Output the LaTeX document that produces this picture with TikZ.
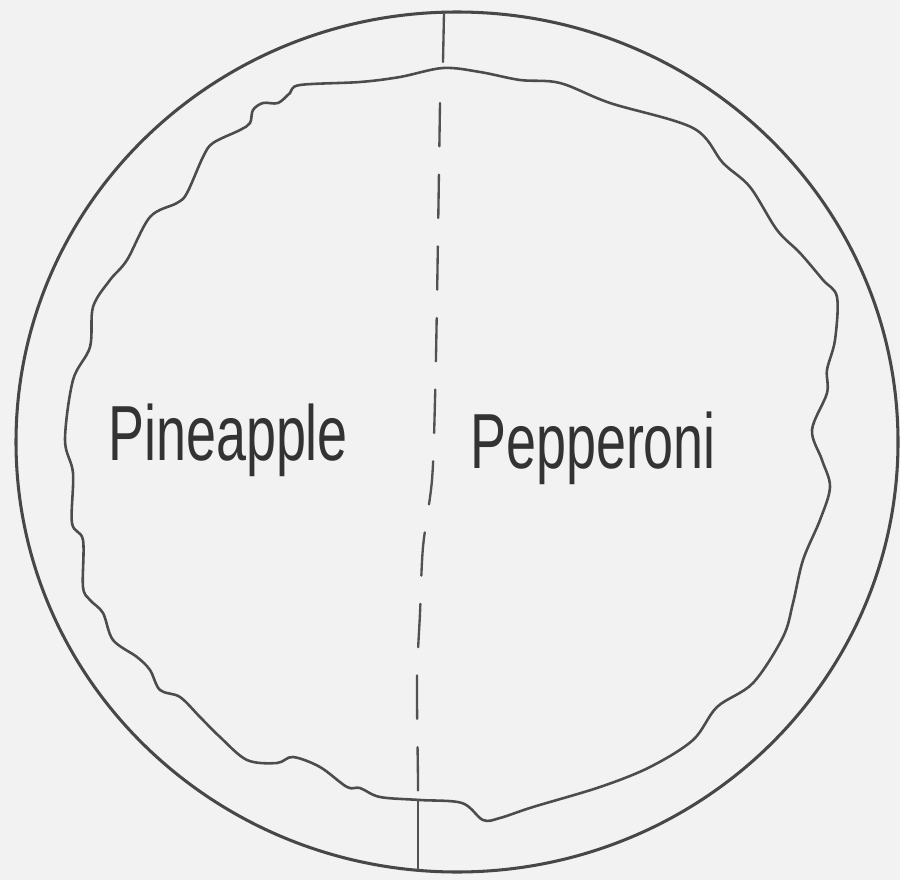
\documentclass[tikz,border=0pt]{standalone}
\usepackage{fontspec}
\setmainfont{Liberation Sans}
\usetikzlibrary{positioning}
\tikzset{
  rimline/.style={draw=black!72, line width=2.6pt},
  crustline/.style={draw=black!70, line width=2.2pt, line join=round},
  cutline/.style={draw=black!68, line width=2pt, line cap=round},
  cutdash/.style={cutline, dash pattern=on 1.3cm off 0.85cm},
  toplabel/.style={font=\fontsize{46}{50}\selectfont, text=black!80, inner sep=0pt, anchor=base west, yscale=1.45, transform shape}
}
\begin{document}
\begin{tikzpicture}[x=0.03cm, y=-0.03cm]
  \useasboundingbox[fill=black!5] (0,0) rectangle (900,880);
  % outer rim
  \draw[rimline] (457,442) ellipse [x radius=441, y radius=430];
  % edge of the topping
  \draw[crustline] plot[smooth cycle, tension=0.55] coordinates {
    (443,68) (480,72) (520,80) (560,83) (610,103) (693,128) (723,163) (750,187)
    (777,230) (800,253) (823,280) (837,297) (835,340) (827,370) (827,393) (812,430)
    (822,460) (830,487) (820,520) (803,560) (793,603) (783,637) (753,683) (717,707)
    (693,740) (650,767) (600,787) (533,807) (500,818) (483,820) (462,803) (420,800)
    (380,797) (360,788) (347,787) (320,767) (293,757) (277,763) (247,760) (220,737)
    (200,717) (180,697) (160,690) (150,670) (137,657) (113,640) (103,613) (90,600)
    (83,587) (83,540) (72,523) (73,473) (65,440) (73,380) (90,347) (93,307)
    (110,280) (127,260) (150,217) (177,203) (187,193) (203,157) (213,143) (240,130)
    (250,123) (253,110) (263,103) (278,103) (290,93) (300,85) (360,82) (400,77)};
  % cut between the halves
  \coordinate (rimtop) at (444,13);
  \coordinate (crusttop) at (443,62);
  \coordinate (crustbot) at (418,800);
  \coordinate (rimbot) at (418,870);
  \draw[cutline] (rimtop) -- (crusttop);
  \draw[cutdash] plot[smooth, tension=0.5] coordinates {
    (440,103) (437,300) (435,400) (432,480) (423,547) (420,613) (417,680) (418,780) (crustbot)};
  \draw[cutline] (crustbot) -- (rimbot);
  % halves
  \node[toplabel] (pineapple) at (108,460) {Pineapple};
  \node[toplabel] (pepperoni) at (470,468) {Pepperoni};
\end{tikzpicture}
\end{document}
